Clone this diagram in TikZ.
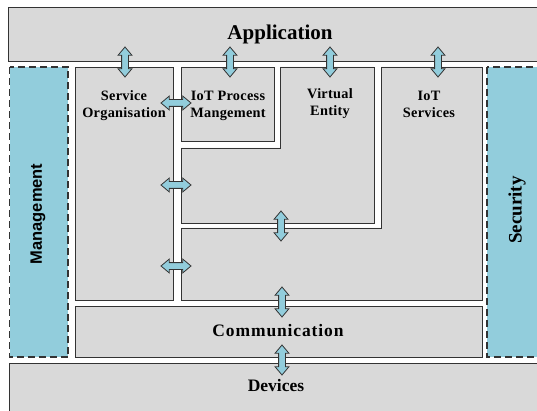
\documentclass[tikz,border=0pt]{standalone}
\usepackage{fontspec}
\setmainfont{Liberation Serif}
\newfontfamily\sidefont{Liberation Sans}
\usetikzlibrary{shapes.arrows, positioning}
\definecolor{layergray}{HTML}{D9D9D9}
\definecolor{sideblue}{HTML}{92CDDC}
\definecolor{edgegray}{HTML}{333333}
\tikzset{
layer/.style={draw=edgegray, fill=layergray, line width=0.9pt}, % grey boxes of the model
side/.style={draw=edgegray, fill=sideblue, dash pattern=on 7pt off 4pt, line width=1.1pt}, % the two side bars
title/.style={font=\bfseries\fontsize{17.5}{20}\selectfont}, % names of the layers
label/.style={font=\bfseries\fontsize{14.3}{17}\selectfont\addfontfeature{LetterSpace=2}, align=center}, % names of the groups
link/.style={shape=double arrow, draw=edgegray, fill=sideblue, line width=0.8pt, inner sep=3pt,
  double arrow head extend=3.5pt, double arrow tip angle=80, minimum height=30pt}, % block arrows
}
\begin{document}
\begin{tikzpicture}[x=1pt, y=-1pt]
\useasboundingbox (0,0) rectangle (537,411);
\clip (0,0) rectangle (537,411);
% layers
\draw[layer] (8,7) rectangle (550,61);
\node[title, font=\bfseries\fontsize{21}{24}\selectfont] (app) at (280,34) {Application};
\draw[layer] (75,306) rectangle (482,357);
\node[title, font=\bfseries\fontsize{17.5}{20}\selectfont\addfontfeature{LetterSpace=5}] (comm) at (278,331) {Communication};
\draw[layer] (9,363) rectangle (550,430);
\node[title] (dev) at (276,386) {Devices};
% side bars
\draw[side] (9.5,67) rectangle (68,357);
\node[rotate=90, font=\sidefont\bfseries\fontsize{16.5}{19}\selectfont] (mgmt) at (38,214) {Management};
\draw[side] (487,67) rectangle (550,357);
\node[title, rotate=90, font=\bfseries\fontsize{19}{22}\selectfont] (sec) at (517,210) {Security};
% functional groups
\draw[layer] (75,67) rectangle (173,300);
\node[label] (so) at (124,106) {Service\\Organisation};
\draw[layer] (181,67) rectangle (274,141);
\node[label] (pm) at (228,106) {IoT Process\\Mangement};
\draw[layer] (280,67) -- (374,67) -- (374,223) -- (181,223) -- (181,148) -- (280,148) -- cycle;
\node[label] (ve) at (330,104) {Virtual\\Entity};
\draw[layer] (381,67) -- (482,67) -- (482,300) -- (181,300) -- (181,228) -- (381,228) -- cycle;
\node[label] (ios) at (429,104) {IoT\\Services};
% arrows
\foreach \x in {125,230,330,438}
  \node[link, rotate=90] at (\x,62) {};
\foreach \y in {103,185,266}
  \node[link] at (176,\y) {};
\node[link, rotate=90] (vi) at (281,226) {};
\node[link, rotate=90] (ic) at (282,302) {};
\node[link, rotate=90] (cd) at (282,360) {};
\end{tikzpicture}
\end{document}
